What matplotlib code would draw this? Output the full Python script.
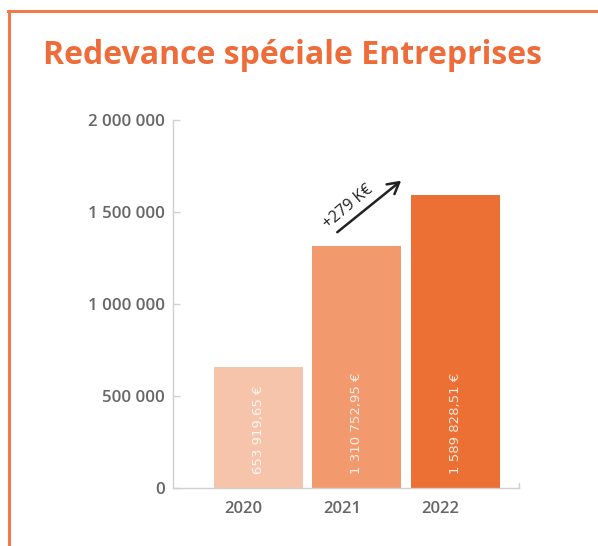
import matplotlib
matplotlib.use("Agg")
import matplotlib.pyplot as plt
import matplotlib.transforms as mtrans
from matplotlib.lines import Line2D

years = ["2020", "2021", "2022"]
values = [653919.65, 1310752.95, 1589828.51]
value_labels = ["653 919,65 €", "1 310 752,95 €", "1 589 828,51 €"]
bar_colors = ["#F6C4AB", "#F29A6E", "#EC6F33"]
yticks = [0, 500000, 1000000, 1500000, 2000000]
ytick_labels = ["0", "500 000", "1 000 000", "1 500 000", "2 000 000"]
delta_label = "+279 K€"

W, H = 598, 546
fig = plt.figure(figsize=(W / 100, H / 100), dpi=100)
fig.patch.set_facecolor("white")

# frame lines (top and left)
orange = "#EE6C3A"
fig.add_artist(Line2D([7.5 / W, 1.0], [1 - 10.5 / H, 1 - 10.5 / H], color="#F07A4A", lw=2.2, transform=fig.transFigure))
fig.add_artist(Line2D([8.5 / W, 8.5 / W], [1 - 10.5 / H, 0], color="#F07A4A", lw=2.2, transform=fig.transFigure))

fig.text(43 / W, 1 - 64 / H, "Redevance spéciale Entreprises", fontsize=23, fontweight="bold",
         color=orange, family=["Open Sans", "DejaVu Sans"], ha="left", va="baseline")

ax = fig.add_axes([173 / W, 1 - 487.5 / H, (519 - 173) / W, (487.5 - 119.5) / H])
x = list(range(len(years)))
ax.bar(x, values, width=0.9, color=bar_colors, zorder=2)
ax.set_xlim(-0.86, 2.64)
ax.set_ylim(0, 2000000)

for s in ["top", "right"]:
    ax.spines[s].set_visible(False)
for s in ["left", "bottom"]:
    ax.spines[s].set_color("#D0D0D0")
    ax.spines[s].set_linewidth(1.0)

ax.set_yticks(yticks)
ax.set_yticklabels(ytick_labels)
ax.tick_params(axis="y", direction="in", length=5, color="#D0D0D0", width=1, pad=6,
               labelsize=12.2, labelcolor="#666666")
for lab in ax.get_yticklabels():
    lab.set_family(["Open Sans", "DejaVu Sans"])
    lab.set_fontweight("semibold")

ax.set_xticks(x)
ax.set_xticklabels(years)
ax.tick_params(axis="x", length=0, pad=10, labelsize=12, labelcolor="#666666")
off = mtrans.ScaledTranslation(-15 / 100, 0, fig.dpi_scale_trans)
for lab in ax.get_xticklabels():
    lab.set_family(["Open Sans", "DejaVu Sans"])
    lab.set_fontweight("semibold")
    lab.set_transform(lab.get_transform() + off)

# small tick at right end of x axis
ax.plot([1, 1], [0, 5 / 368], transform=ax.transAxes, color="#D0D0D0", lw=1, clip_on=False)

# value labels inside bars
for xi, v, lab in zip(x, values, value_labels):
    ax.annotate(lab, xy=(xi, 0), xytext=(0, 10), textcoords="offset points",
                rotation=90, ha="center", va="bottom", color="white", alpha=0.85,
                fontsize=9.5, family=["DejaVu Sans"], zorder=3)

# growth arrow
ax.annotate("", xy=(1.47, 1677000), xytext=(0.78, 1378000),
            arrowprops=dict(arrowstyle="->,head_length=0.8,head_width=0.45", color="#222222", lw=1.8))
ax.text(0.91, 1525000, delta_label, rotation=40, rotation_mode="anchor", ha="center", va="center",
        fontsize=11.5, color="#222222", family=["Open Sans", "DejaVu Sans"])

fig.savefig("out.png", dpi=100, facecolor="white")
